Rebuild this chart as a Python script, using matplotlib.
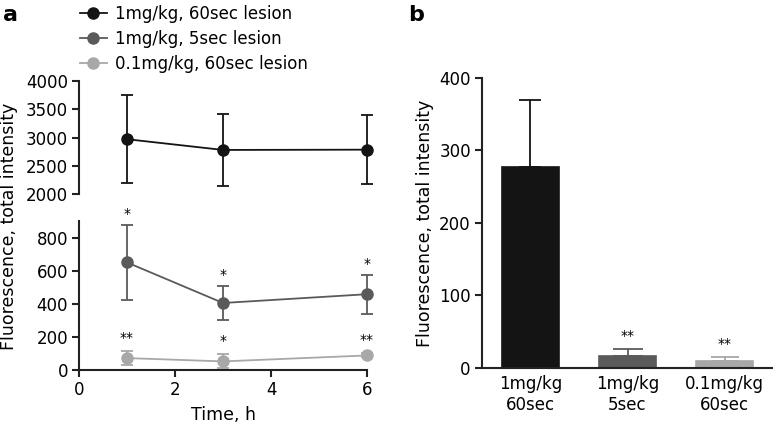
import numpy as np
import matplotlib.pyplot as plt
import matplotlib as mpl

mpl.rcParams["font.family"] = ["DejaVu Sans"]
mpl.rcParams["font.size"] = 12

# ---- data, panel a ----
time_h = [1, 3, 6]
labels_a = ["1mg/kg, 60sec lesion", "1mg/kg, 5sec lesion", "0.1mg/kg, 60sec lesion"]
mean_60s = [2970, 2780, 2785]
err_60s = [780, 645, 615]
mean_5s = [650, 405, 458]
err_5s = [225, 100, 118]
mean_low = [72, 52, 88]
err_low = [42, 42, 12]
stars_5s = ["*", "*", "*"]
stars_low = ["**", "*", "**"]

# ---- data, panel b ----
groups_b = ["1mg/kg\n60sec", "1mg/kg\n5sec", "0.1mg/kg\n60sec"]
bar_vals = [277, 17, 10]
bar_errs = [92, 9, 5]
stars_b = ["", "**", "**"]

COLORS = ["#141414", "#5a5a5a", "#a8a8a8"]
SPINE = "#222222"
CAPS_B = [8, 10.5, 10]

fig = plt.figure(figsize=(7.73, 4.28), dpi=100)

ax_top = fig.add_axes([0.1022, 0.5467, 0.3726, 0.264])
ax_bot = fig.add_axes([0.1022, 0.1355, 0.3726, 0.348])
ax_b = fig.add_axes([0.6235, 0.1402, 0.3766, 0.6776])


def style(ax):
    for s in ["top", "right"]:
        ax.spines[s].set_visible(False)
    for s in ["left", "bottom"]:
        ax.spines[s].set_linewidth(1.5)
        ax.spines[s].set_color(SPINE)
    ax.tick_params(direction="out", length=5, width=1.5, color=SPINE,
                   labelsize=12, pad=3)


for ax in (ax_top, ax_bot, ax_b):
    style(ax)

ekw = dict(marker="o", markersize=8, capsize=4.5, elinewidth=1.3,
           capthick=1.3, linewidth=1.3, clip_on=False)

for ax in (ax_top, ax_bot):
    ax.set_xlim(0, 6)

c1 = ax_top.errorbar(time_h, mean_60s, yerr=err_60s, color=COLORS[0], **ekw)
c2 = ax_bot.errorbar(time_h, mean_5s, yerr=err_5s, color=COLORS[1], **ekw)
c3 = ax_bot.errorbar(time_h, mean_low, yerr=err_low, color=COLORS[2], **ekw)
handles = [c1[0], c2[0], c3[0]]

ax_top.set_ylim(2000, 4000)
ax_top.set_yticks([2000, 2500, 3000, 3500, 4000])
ax_top.spines["bottom"].set_visible(False)
ax_top.set_xticks([])

ax_bot.set_ylim(0, 900)
ax_bot.set_yticks([0, 200, 400, 600, 800])
ax_bot.set_xticks([0, 2, 4, 6])
ax_bot.set_xlabel("Time, h", fontsize=12.5, labelpad=5)

for x, m, e, s in zip(time_h, mean_5s, err_5s, stars_5s):
    ax_bot.text(x, m + e + 25, s, ha="center", va="bottom", fontsize=10,
                clip_on=False)
for x, m, e, s in zip(time_h, mean_low, err_low, stars_low):
    ax_bot.text(x, m + e + 40, s, ha="center", va="bottom", fontsize=10,
                clip_on=False)

fig.text(0.012, 0.47, "Fluorescence, total intensity", rotation=90,
         ha="center", va="center", fontsize=12.5)

fig.legend(handles=handles, labels=labels_a, loc="upper left",
           bbox_to_anchor=(0.084, 1.024), frameon=False, fontsize=12,
           handlelength=1.6, handletextpad=0.5, labelspacing=0.42)

# ---- panel b ----
xb = np.arange(len(groups_b))
for i in range(len(xb)):
    ax_b.bar(xb[i], bar_vals[i], width=0.58, color=COLORS[i],
             edgecolor=COLORS[i], linewidth=1.2)
    ax_b.errorbar(xb[i], bar_vals[i], yerr=[[0], [bar_errs[i]]],
                  color=COLORS[i], capsize=CAPS_B[i], elinewidth=1.3,
                  capthick=1.3)
    if stars_b[i]:
        ax_b.text(xb[i], bar_vals[i] + bar_errs[i] + 8, stars_b[i],
                  ha="center", va="bottom", fontsize=10)

ax_b.set_xlim(-0.5, 2.5)
ax_b.set_ylim(0, 400)
ax_b.set_yticks([0, 100, 200, 300, 400])
ax_b.set_xticks(xb)
ax_b.set_xticklabels(groups_b)
ax_b.tick_params(axis="x", length=0, pad=5)
ax_b.set_ylabel("Fluorescence, total intensity", fontsize=12.5, labelpad=4)

fig.text(0.004, 0.965, "a", fontsize=16, fontweight="bold", va="center")
fig.text(0.528, 0.965, "b", fontsize=16, fontweight="bold", va="center")

fig.savefig("out.png", dpi=100)
